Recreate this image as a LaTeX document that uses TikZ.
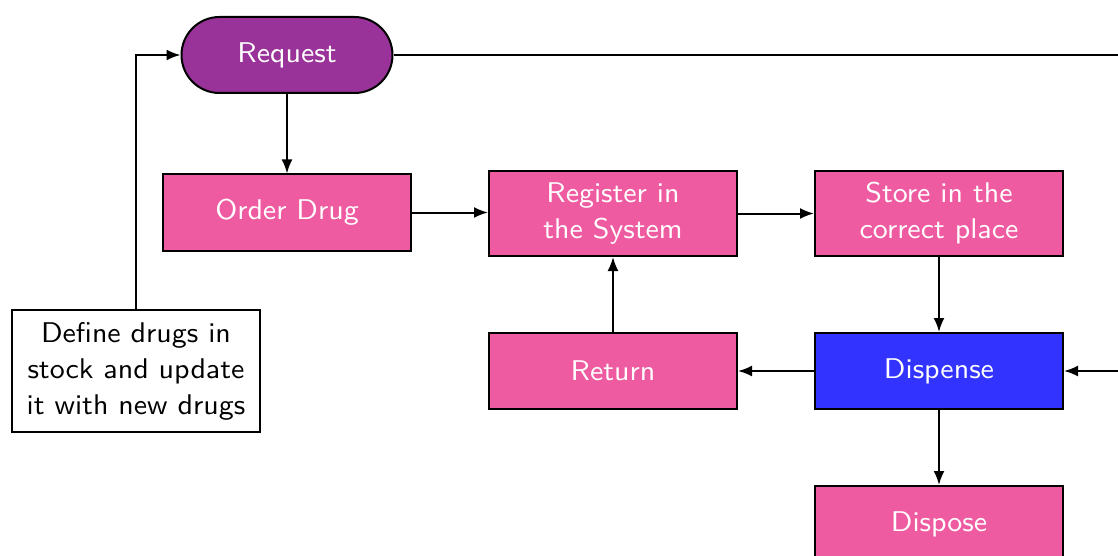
\documentclass[tikz,border=0pt]{standalone}
\usepackage{fontspec}
\setsansfont{lmsans10-regular.otf}[FakeStretch=1.05]
\usetikzlibrary{arrows.meta,shapes.misc}
\definecolor{procpink}{RGB}{239,91,161}
\definecolor{startpurple}{RGB}{153,51,153}
\definecolor{actblue}{RGB}{51,51,255}
\tikzset{
  every node/.style={font=\sffamily\fontsize{28.5}{36}\selectfont},
  procbox/.style={draw=black, line width=2pt, fill=procpink, text=white,
    minimum width=248pt, minimum height=76pt, inner sep=0pt, align=center},
  startbox/.style={draw=black, line width=2pt, fill=startpurple, text=white,
    rounded rectangle, minimum width=211pt, minimum height=76pt, inner sep=0pt},
  notebox/.style={draw=black, line width=2pt, fill=white, text=black,
    minimum width=248pt, minimum height=122pt, inner sep=0pt, align=center},
  flow/.style={line width=2pt, -{Latex[length=14pt,width=11pt]}},
}
\begin{document}
\begin{tikzpicture}[x=1pt,y=-1pt]
  \useasboundingbox (0,0) rectangle (1118,556);
  \clip (0,0) rectangle (1118,556);

  \node[startbox] (request) at (287,55) {Request};
  \node[procbox] (order) at (287,212.5) {Order Drug};
  \node[procbox, minimum height=85pt] (register) at (613,213.5) {Register in\\the System};
  \node[procbox, minimum height=85pt] (store) at (939,213.5) {Store in the\\correct place};
  \node[procbox] (return) at (613,371) {Return};
  \node[procbox, fill=actblue] (dispense) at (939,371) {Dispense};
  \node[procbox] (dispose) at (939,524) {Dispose};
  \node[notebox] (define) at (136,371) {Define drugs in\\stock and update\\it with new drugs};

  \coordinate (loopTop) at (1145,55);
  \coordinate (loopBot) at (1145,371);

  \draw[flow] (define.north) |- (request.west);
  \draw[flow] (request.south) -- (order.north);
  \draw[flow] (order.east) -- (order.east -| register.west);
  \draw[flow] (register.east) -- (store.west);
  \draw[flow] (store.south) -- (dispense.north);
  \draw[flow] (dispense.west) -- (return.east);
  \draw[flow] (return.north) -- (register.south);
  \draw[flow] (dispense.south) -- (dispose.north);
  \draw[flow] (request.east) -- (loopTop) -- (loopBot) -- (dispense.east);
\end{tikzpicture}
\end{document}
